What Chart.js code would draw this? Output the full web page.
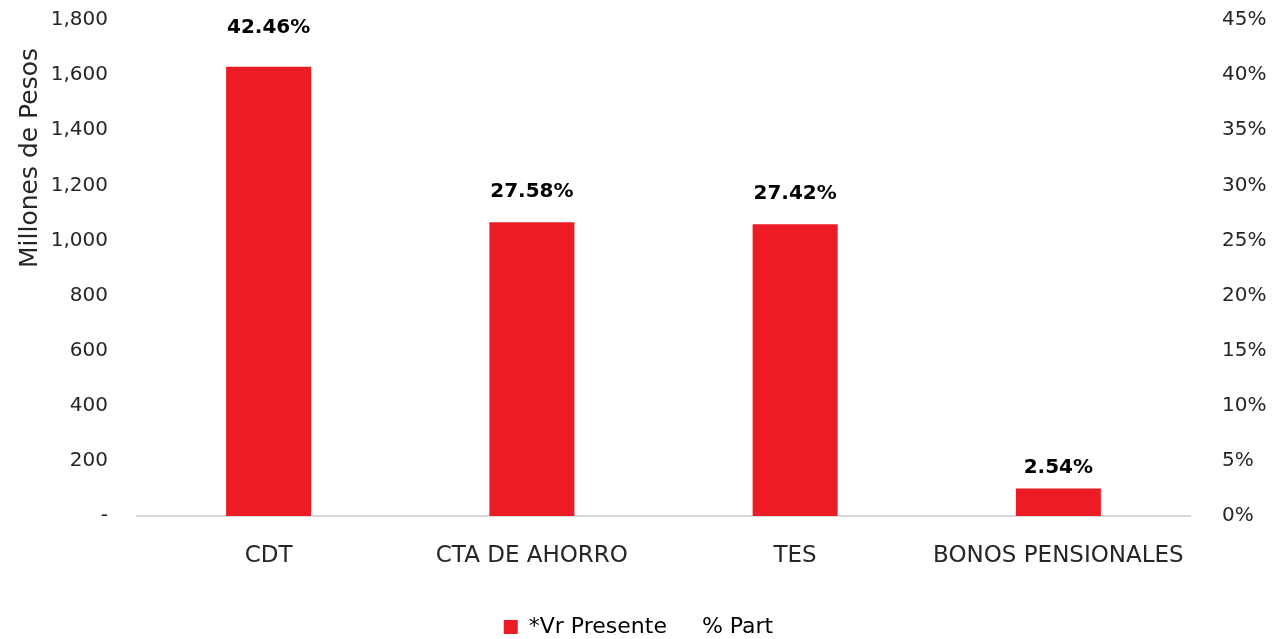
<!DOCTYPE html>
<html>
<head>
<meta charset="utf-8">
<script src="https://cdn.jsdelivr.net/npm/chart.js@4"></script>
<style>
  html, body { margin: 0; padding: 0; background: #fff; }
  #wrap { width: 1277px; height: 639px; }
</style>
</head>
<body>
<div id="wrap"><canvas id="chart"></canvas></div>
<script>
const categories = ['CDT', 'CTA DE AHORRO', 'TES', 'BONOS PENSIONALES'];
const vrPresente = [1630, 1066, 1059, 100];
const partPct = [42.46, 27.58, 27.42, 2.54];
const seriesNames = ['*Vr Presente', '% Part'];

const FONT = "'DejaVu Sans', sans-serif";
const TEXT = '#262626';
const RED = '#ed1c24';

// percentage labels drawn above the % Part points (line itself is hidden)
const pctLabels = {
  id: 'pctLabels',
  afterDatasetsDraw(chart) {
    const ctx = chart.ctx;
    const meta = chart.getDatasetMeta(1);
    ctx.save();
    ctx.font = 'bold 20px ' + FONT;
    ctx.fillStyle = '#000';
    ctx.textAlign = 'center';
    ctx.textBaseline = 'middle';
    meta.data.forEach((pt, i) => {
      ctx.fillText(partPct[i].toFixed(2) + '%', pt.x, pt.y - 20);
    });
    ctx.restore();
  }
};

// y axis title, sits a bit higher than centre like the original
const yTitle = {
  id: 'yTitle',
  afterDraw(chart) {
    const ctx = chart.ctx;
    ctx.save();
    ctx.translate(30, 158);
    ctx.rotate(-Math.PI / 2);
    ctx.font = '25px ' + FONT;
    ctx.fillStyle = TEXT;
    ctx.textAlign = 'center';
    ctx.textBaseline = 'middle';
    ctx.fillText('Millones de Pesos', 0, 0);
    ctx.restore();
  }
};

new Chart(document.getElementById('chart'), {
  type: 'bar',
  data: {
    labels: categories,
    datasets: [
      {
        label: seriesNames[0],
        data: vrPresente,
        backgroundColor: RED,
        borderWidth: 0,
        barPercentage: 0.323,
        categoryPercentage: 1,
        yAxisID: 'y',
        order: 2
      },
      {
        label: seriesNames[1],
        data: partPct,
        type: 'line',
        showLine: false,
        pointRadius: 0,
        borderColor: 'transparent',
        backgroundColor: 'transparent',
        yAxisID: 'y1',
        order: 1
      }
    ]
  },
  options: {
    responsive: true,
    maintainAspectRatio: false,
    animation: false,
    layout: { padding: { top: 20, left: 0, right: 0, bottom: -9 } },
    plugins: {
      tooltip: { enabled: false },
      legend: {
        position: 'bottom',
        labels: {
          color: TEXT,
          font: { family: FONT, size: 22 },
          boxWidth: 14,
          boxHeight: 14,
          padding: 10,
          generateLabels: chart => seriesNames.map((name, i) => ({
            text: name,
            fillStyle: i === 0 ? RED : 'transparent',
            strokeStyle: 'transparent',
            lineWidth: 0,
            datasetIndex: i
          }))
        }
      }
    },
    scales: {
      x: {
        grid: { display: false },
        border: { display: true, color: '#d9d9d9', width: 2 },
        ticks: { color: TEXT, font: { family: FONT, size: 23 }, padding: 18, maxRotation: 0 },
        afterFit: s => { s.height = 90; }
      },
      y: {
        position: 'left',
        min: 0,
        max: 1800,
        grid: { display: false },
        border: { display: false },
        ticks: {
          stepSize: 200,
          color: TEXT,
          font: { family: FONT, size: 20 },
          padding: 21,
          callback: v => v === 0 ? '-' : v.toLocaleString('en-US')
        },
        afterFit: s => { s.width = 137; s.paddingTop = 0; s.paddingBottom = 0; }
      },
      y1: {
        position: 'right',
        min: 0,
        max: 45,
        grid: { display: false },
        border: { display: false },
        ticks: {
          stepSize: 5,
          color: TEXT,
          font: { family: FONT, size: 20 },
          padding: 24,
          callback: v => v + '%'
        },
        afterFit: s => { s.width = 87; s.paddingTop = 0; s.paddingBottom = 0; }
      }
    }
  },
  plugins: [pctLabels, yTitle]
});
</script>
</body>
</html>
